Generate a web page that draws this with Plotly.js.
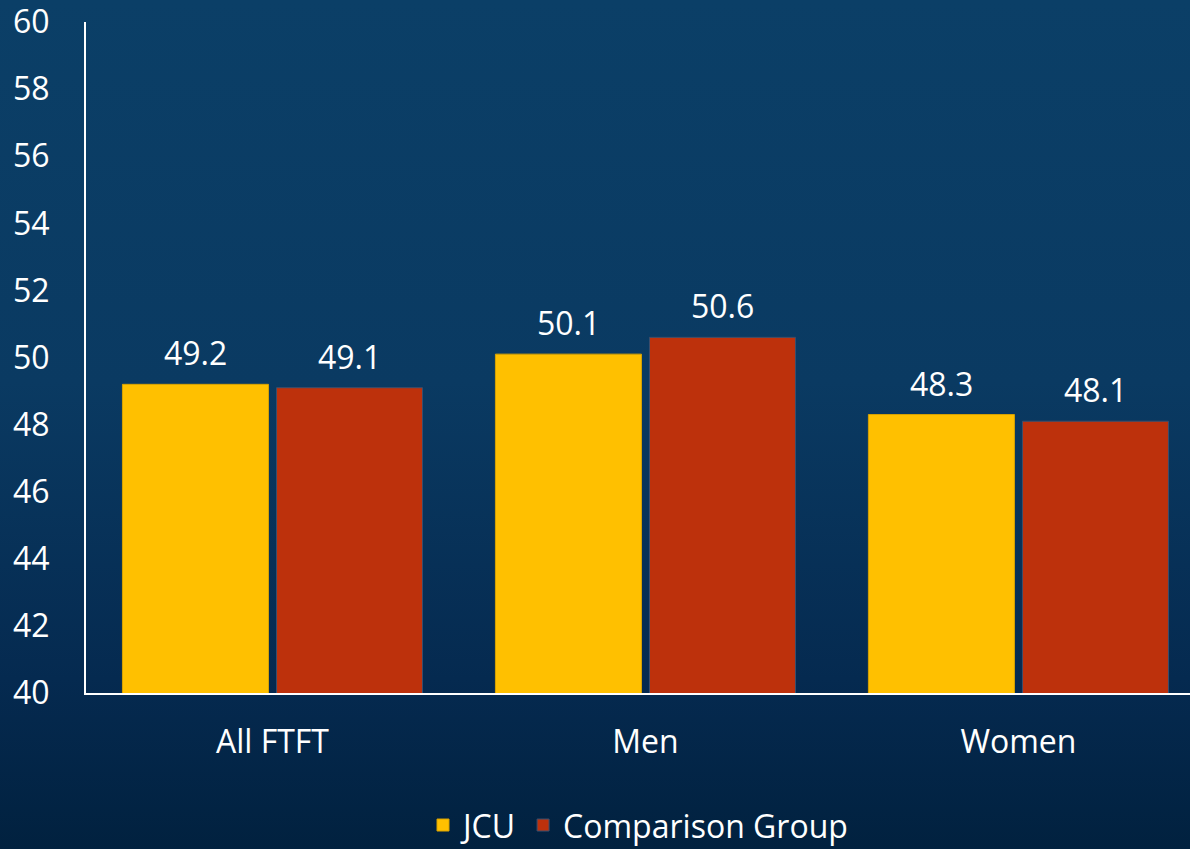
<!DOCTYPE html>
<html>
<head>
<meta charset="utf-8">
<script src="https://cdn.plot.ly/plotly-3.0.1.min.js"></script>
<style>
html,body{margin:0;padding:0;width:1190px;height:849px;overflow:hidden;
background:linear-gradient(to bottom,#0b3f67 0%,#0a3a62 45%,#052a50 80%,#01213f 100%);}
#chart{width:1190px;height:849px;}
</style>
</head>
<body>
<div id="chart"></div>
<script>
const categories = ["All FTFT", "Men", "Women"];
const jcuValues = [49.2, 50.1, 48.3];
const comparisonValues = [49.1, 50.6, 48.1];
const seriesNames = ["JCU", "Comparison Group"];
const yTicks = [40, 42, 44, 46, 48, 50, 52, 54, 56, 58, 60];

const font = {family: "Open Sans, sans-serif", color: "#ffffff", size: 32};

const traces = [
  {type: "bar", name: seriesNames[0], x: categories, y: jcuValues,
   marker: {color: "#FFC000", line: {color: "#d9a300", width: 1}}},
  {type: "bar", name: seriesNames[1], x: categories, y: comparisonValues,
   marker: {color: "#BD310C", line: {color: "#3a4f6e", width: 1}}}
];

// value labels placed through the axes: category index +/- half a bar slot
const halfSlot = 0.2064;
const annotations = [];
[jcuValues, comparisonValues].forEach((vals, s) => {
  vals.forEach((v, i) => {
    annotations.push({
      xref: "x", yref: "y",
      x: i + (s === 0 ? -halfSlot : halfSlot), y: v,
      text: v.toFixed(1), showarrow: false,
      xanchor: "center", yanchor: "bottom", yshift: 8,
      font: font
    });
  });
});

const layout = {
  width: 1190, height: 849,
  margin: {l: 86, r: 0, t: 22, b: 156},
  paper_bgcolor: "rgba(0,0,0,0)",
  plot_bgcolor: "rgba(0,0,0,0)",
  font: font,
  barmode: "group",
  bargap: 0.174,
  bargroupgap: 0.052,
  xaxis: {
    type: "category", range: [-0.5, 2.46],
    showline: true, linecolor: "#ffffff", linewidth: 2,
    showgrid: false, ticks: "", ticklabelstandoff: 20,
    tickfont: font, fixedrange: true
  },
  yaxis: {
    range: [40, 60], tickvals: yTicks, ticktext: yTicks.map(String),
    showline: true, linecolor: "#ffffff", linewidth: 2,
    showgrid: false, zeroline: false, ticks: "", ticklabelstandoff: 28,
    ticklabeloverflow: "allow",
    tickfont: font, fixedrange: true
  },
  annotations: annotations,
  showlegend: true,
  legend: {
    orientation: "h", x: 0.5, xanchor: "center",
    yref: "container", y: 0.028, yanchor: "middle",
    font: font, bgcolor: "rgba(0,0,0,0)", traceorder: "normal",
    itemwidth: 30
  }
};

Plotly.newPlot("chart", traces, layout, {displayModeBar: false, staticPlot: true});
</script>
</body>
</html>
